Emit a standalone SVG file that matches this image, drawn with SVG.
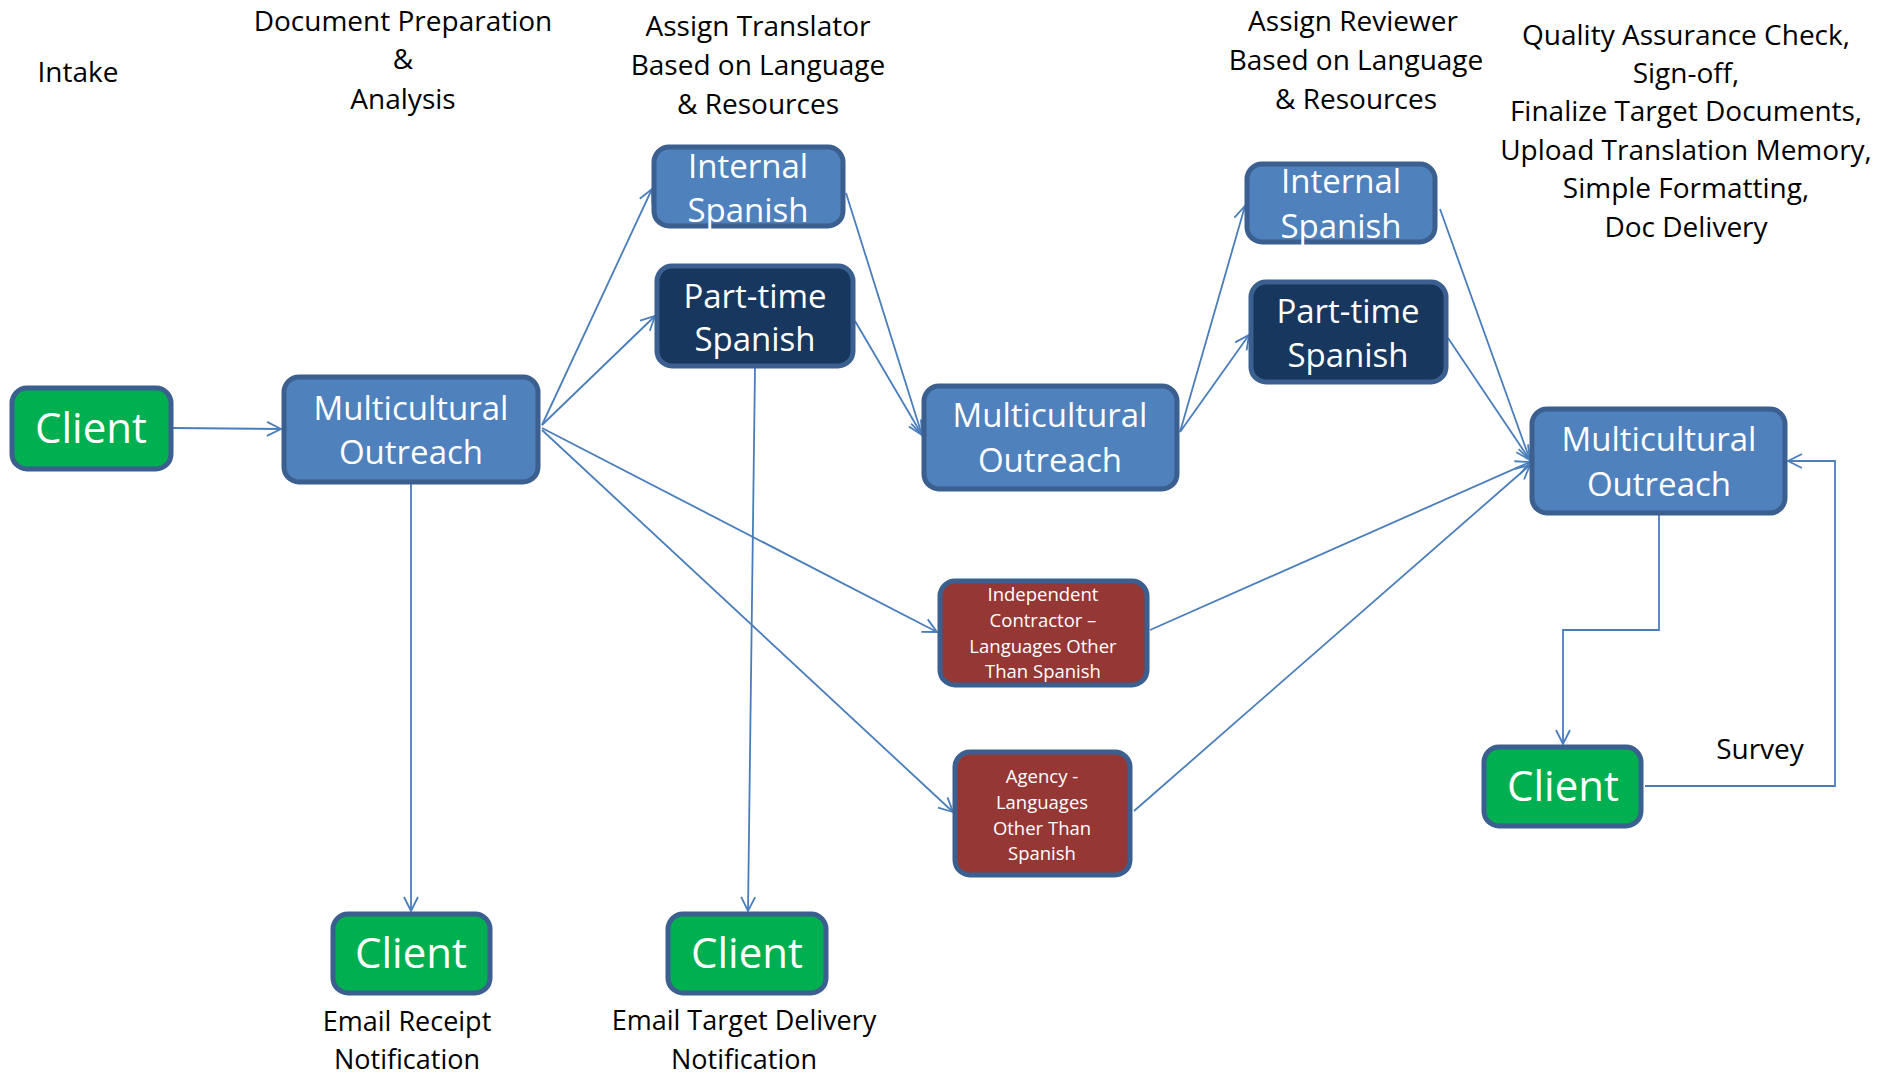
<svg xmlns="http://www.w3.org/2000/svg" width="1892" height="1076" viewBox="0 0 1892 1076">
  <defs>
    <style>
      .box { stroke: #3B5F8F; stroke-width: 5; }
      .blue { fill: #4F81BD; }
      .navy { fill: #17375E; }
      .green { fill: #00B050; }
      .red { fill: #953735; }
      .lbl { font-family: "Open Sans", "Liberation Sans", sans-serif; fill: #FFFFFF; text-anchor: middle; }
      .big { font-size: 33px; }
      .client { font-size: 42px; }
      .small { font-size: 18.5px; }
      .note { font-family: "Open Sans", "Liberation Sans", sans-serif; font-size: 28px; fill: #000000; text-anchor: middle; }
      .foot { font-size: 27px; }
      .wire { fill: none; stroke: #4A7EBB; stroke-width: 1.8; }
    </style>
    <marker id="open" viewBox="0 0 16 16" refX="15" refY="8" markerWidth="16" markerHeight="16" markerUnits="userSpaceOnUse" orient="auto">
      <path d="M1,1 L15,8 L1,15" fill="none" stroke="#4A7EBB" stroke-width="1.8"/>
    </marker>
  </defs>

  <rect width="1892" height="1076" fill="#FFFFFF"/>

  <!-- stage captions -->
  <g id="captions">
    <text class="note" x="78" y="82">Intake</text>
    <text class="note" x="403" y="31">Document Preparation</text>
    <text class="note" x="403" y="69">&amp;</text>
    <text class="note" x="403" y="109">Analysis</text>
    <text class="note" x="758" y="36">Assign Translator</text>
    <text class="note" x="758" y="75">Based on Language</text>
    <text class="note" x="758" y="114">&amp; Resources</text>
    <text class="note" x="1353" y="31">Assign Reviewer</text>
    <text class="note" x="1356" y="70">Based on Language</text>
    <text class="note" x="1356" y="109">&amp; Resources</text>
    <text class="note" x="1686" y="45">Quality Assurance Check,</text>
    <text class="note" x="1686" y="83">Sign-off,</text>
    <text class="note" x="1686" y="121">Finalize Target Documents,</text>
    <text class="note" x="1686" y="160">Upload Translation Memory,</text>
    <text class="note" x="1686" y="198">Simple Formatting,</text>
    <text class="note" x="1686" y="237">Doc Delivery</text>
    <text class="note foot" x="407" y="1031">Email Receipt</text>
    <text class="note foot" x="407" y="1069">Notification</text>
    <text class="note foot" x="744" y="1030">Email Target Delivery</text>
    <text class="note foot" x="744" y="1069">Notification</text>
    <text class="note" x="1760" y="759">Survey</text>
  </g>

  <!-- connectors -->
  <g id="connectors">
    <path class="wire" d="M173,428 L281,429" marker-end="url(#open)"/>
    <path class="wire" d="M542,425 L652,189" marker-end="url(#open)"/>
    <path class="wire" d="M542,425 L655,316" marker-end="url(#open)"/>
    <path class="wire" d="M542,428 L937,632" marker-end="url(#open)"/>
    <path class="wire" d="M542,430 L953,812" marker-end="url(#open)"/>
    <path class="wire" d="M411,484 L411,911" marker-end="url(#open)"/>
    <path class="wire" d="M755,368 L748,911" marker-end="url(#open)"/>
    <path class="wire" d="M846,193 L922,435" marker-end="url(#open)"/>
    <path class="wire" d="M855,321 L922,435" marker-end="url(#open)"/>
    <path class="wire" d="M1180,432 L1245,206" marker-end="url(#open)"/>
    <path class="wire" d="M1180,432 L1249,335" marker-end="url(#open)"/>
    <path class="wire" d="M1440,209 L1530,460" marker-end="url(#open)"/>
    <path class="wire" d="M1448,338 L1530,460" marker-end="url(#open)"/>
    <path class="wire" d="M1150,630 L1530,462" marker-end="url(#open)"/>
    <path class="wire" d="M1134,811 L1530,465" marker-end="url(#open)"/>
    <path class="wire" d="M1659,515 L1659,630 L1563,630 L1563,744" marker-end="url(#open)"/>
    <path class="wire" d="M1645,786 L1835,786 L1835,461 L1788,461" marker-end="url(#open)"/>
  </g>

  <!-- nodes -->
  <g id="client-intake">
    <rect class="box green" x="12" y="388" width="159" height="81" rx="15"/>
    <text class="lbl client" x="91" y="443">Client</text>
  </g>
  <g id="outreach-intake">
    <rect class="box blue" x="284" y="377" width="254" height="105" rx="15"/>
    <text class="lbl big" x="411" y="420">Multicultural</text>
    <text class="lbl big" x="411" y="464">Outreach</text>
  </g>
  <g id="translator-internal">
    <rect class="box blue" x="654" y="147" width="189" height="79" rx="15"/>
    <text class="lbl big" x="748" y="178">Internal</text>
    <text class="lbl big" x="748" y="222">Spanish</text>
  </g>
  <g id="translator-parttime">
    <rect class="box navy" x="657" y="266" width="196" height="100" rx="15"/>
    <text class="lbl big" x="755" y="308">Part-time</text>
    <text class="lbl big" x="755" y="351">Spanish</text>
  </g>
  <g id="outreach-review">
    <rect class="box blue" x="924" y="386" width="253" height="103" rx="15"/>
    <text class="lbl big" x="1050" y="427">Multicultural</text>
    <text class="lbl big" x="1050" y="472">Outreach</text>
  </g>
  <g id="reviewer-internal">
    <rect class="box blue" x="1247" y="164" width="188" height="78" rx="15"/>
    <text class="lbl big" x="1341" y="193">Internal</text>
    <text class="lbl big" x="1341" y="238">Spanish</text>
  </g>
  <g id="reviewer-parttime">
    <rect class="box navy" x="1251" y="282" width="195" height="100" rx="15"/>
    <text class="lbl big" x="1348" y="323">Part-time</text>
    <text class="lbl big" x="1348" y="367">Spanish</text>
  </g>
  <g id="outreach-qa">
    <rect class="box blue" x="1532" y="409" width="253" height="104" rx="15"/>
    <text class="lbl big" x="1659" y="451">Multicultural</text>
    <text class="lbl big" x="1659" y="496">Outreach</text>
  </g>
  <g id="contractor">
    <rect class="box red" x="940" y="581" width="207" height="104" rx="15"/>
    <text class="lbl small" x="1043" y="601">Independent</text>
    <text class="lbl small" x="1043" y="627">Contractor –</text>
    <text class="lbl small" x="1043" y="653">Languages Other</text>
    <text class="lbl small" x="1043" y="678">Than Spanish</text>
  </g>
  <g id="agency">
    <rect class="box red" x="955" y="752" width="175" height="123" rx="15"/>
    <text class="lbl small" x="1042" y="783">Agency -</text>
    <text class="lbl small" x="1042" y="809">Languages</text>
    <text class="lbl small" x="1042" y="835">Other Than</text>
    <text class="lbl small" x="1042" y="860">Spanish</text>
  </g>
  <g id="client-receipt">
    <rect class="box green" x="333" y="914" width="157" height="79" rx="15"/>
    <text class="lbl client" x="411" y="968">Client</text>
  </g>
  <g id="client-delivery">
    <rect class="box green" x="668" y="914" width="158" height="79" rx="15"/>
    <text class="lbl client" x="747" y="968">Client</text>
  </g>
  <g id="client-survey">
    <rect class="box green" x="1484" y="747" width="157" height="79" rx="15"/>
    <text class="lbl client" x="1563" y="801">Client</text>
  </g>
</svg>
